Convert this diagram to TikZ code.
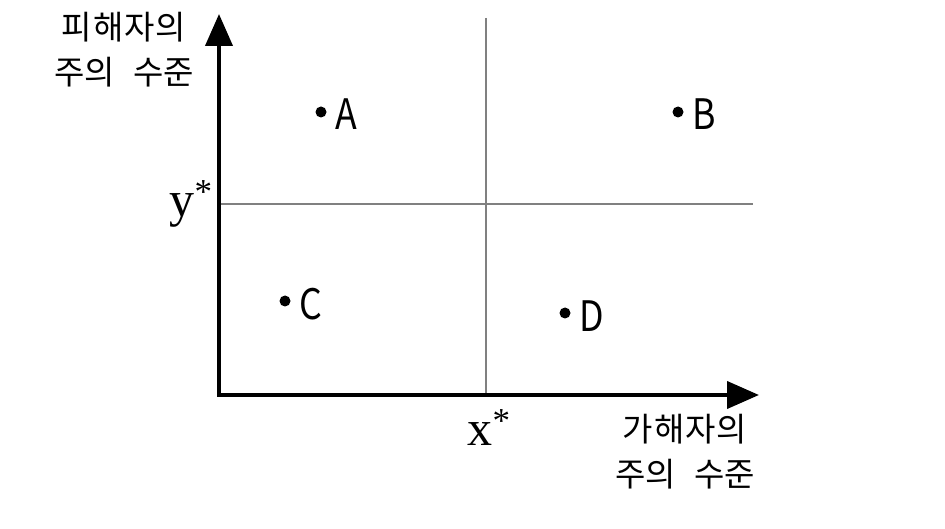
\documentclass[tikz,border=0pt]{standalone}
\usepackage{fontspec}
\newfontfamily\kr{Noto Sans CJK KR}
\newfontfamily\tms{Liberation Serif}
\usetikzlibrary{arrows.meta}
\begin{document}
\begin{tikzpicture}[x=1pt,y=-1pt,
  axis/.style={line width=4pt,-{Triangle[length=32pt,width=27pt]}},
  guide/.style={line width=1.8pt,draw=black!50},
  pt/.style={circle,fill=black,inner sep=0pt,minimum size=11pt},
  ptlabel/.style={font=\kr\fontsize{42}{42}\selectfont,inner sep=0pt,xscale=0.85},
  axlabel/.style={font=\kr\fontsize{33}{45}\selectfont,align=center,inner sep=0pt},
  star/.style={font=\tms\fontsize{50}{50}\selectfont,inner sep=0pt}]
\useasboundingbox (0,0) rectangle (945,529);
\coordinate (O) at (219,395);
\coordinate (ytip) at (219,14);
\coordinate (xtip) at (759,395);
\coordinate (vtop) at (486,18);
\coordinate (vbot) at (486,395);
\coordinate (hl) at (219,204);
\coordinate (hr) at (753,204);
\draw[guide] (vtop) -- (vbot);
\draw[guide] (hl) -- (hr);
\draw[axis] ([xshift=-2pt]O) -- (xtip);
\draw[axis] ([yshift=2pt]O) -- (ytip);
\node[pt] (a) at (321,112) {};
\node[pt] (b) at (678,112) {};
\node[pt] (c) at (285,301) {};
\node[pt] (d) at (565,313) {};
\node[ptlabel,anchor=west] (la) at (335,114) {A};
\node[ptlabel,anchor=west] (lb) at (692,114) {B};
\node[ptlabel,anchor=west] (lc) at (299,304) {C};
\node[ptlabel,anchor=west] (ld) at (579,316) {D};
\node[star] (ys) at (191,204) {y\raisebox{4pt}{\textsuperscript{*}}};
\node[star] (xs) at (489,428) {x\raisebox{4pt}{\textsuperscript{*}}};
\node[axlabel] (ylab) at (124,50) {피\hspace{1pt}해\hspace{1pt}자\hspace{1pt}의\\주의\hspace{0.55em}수준};
\node[axlabel] (xlab) at (685,452) {가\hspace{1pt}해\hspace{1pt}자\hspace{1pt}의\\주의\hspace{0.55em}수준};
\end{tikzpicture}
\end{document}
